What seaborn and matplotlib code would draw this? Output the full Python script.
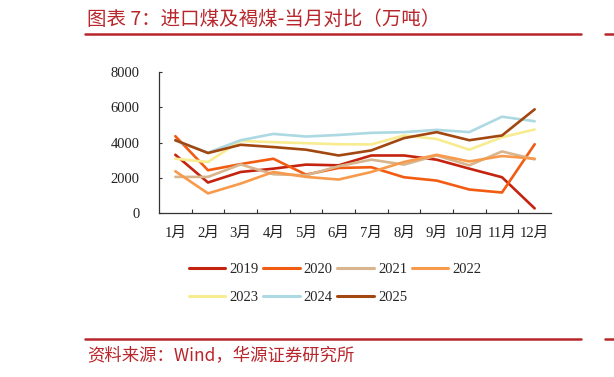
import numpy as np
import pandas as pd
import matplotlib
matplotlib.use("Agg")
import matplotlib.pyplot as plt
import seaborn as sns
from matplotlib.lines import Line2D

months = ['1月', '2月', '3月', '4月', '5月', '6月', '7月', '8月', '9月', '10月', '11月', '12月']
years = ['2019', '2020', '2021', '2022', '2023', '2024', '2025']
y2019 = [3300, 1720, 2320, 2510, 2740, 2700, 3260, 3260, 3020, 2510, 2020, 245]
y2020 = [4360, 2420, 2770, 3075, 2170, 2550, 2590, 2020, 1830, 1320, 1150, 3900]
y2021 = [2040, 2040, 2750, 2190, 2130, 2650, 3020, 2740, 3260, 2700, 3490, 3040]
y2022 = [2360, 1100, 1660, 2320, 2040, 1890, 2320, 2890, 3300, 2920, 3230, 3075]
y2023 = [3075, 2890, 4090, 4020, 3960, 3900, 3890, 4400, 4200, 3590, 4300, 4740]
y2024 = [4110, 3420, 4130, 4490, 4340, 4430, 4550, 4590, 4720, 4590, 5470, 5210]
y2025 = [4130, 3400, 3870, 3740, 3590, 3260, 3550, 4250, 4590, 4130, 4400, 5890]
yticks = [0, 2000, 4000, 6000, 8000]
colors = ['#c4230f', '#f25c12', '#d8b58c', '#f89a4c', '#f8ec90', '#acd9e2', '#a1470f']

series = [y2019, y2020, y2021, y2022, y2023, y2024, y2025]
rows = []
for yr, vals in zip(years, series):
    for i, v in enumerate(vals):
        rows.append({'month': i, 'year': yr, 'value': v})
df = pd.DataFrame(rows)

sns.set_theme(style='white')
plt.rcParams['font.family'] = ['Liberation Serif', 'Noto Sans CJK SC', 'DejaVu Sans']

fig = plt.figure(figsize=(6.14, 3.77), dpi=100)
ax = fig.add_axes([159/614, 1-212.7/377, (551-159)/614, (212.7-72.3)/377])

palette = dict(zip(years, colors))
sns.lineplot(data=df, x='month', y='value', hue='year', palette=palette,
             linewidth=1.9, ax=ax, legend=False, sort=False)

ax.set_xlim(-0.5, 11.5)
ax.set_ylim(0, 8000)
ax.set_yticks(yticks)
ax.set_yticklabels([str(t) for t in yticks])
ax.set_xticks(range(12))
ax.set_xticklabels(months)
ax.set_xticks(np.arange(0.5, 11, 1.0), minor=True)
ax.set_xlabel('')
ax.set_ylabel('')
ax.tick_params(axis='x', which='major', length=0, pad=10, labelsize=10.5, colors='#222222')
ax.tick_params(axis='x', which='minor', direction='in', length=3, width=0.8, color='#333333', bottom=True)
ax.tick_params(axis='y', which='major', direction='in', length=2.5, width=0.8, color='#333333',
               pad=14, labelsize=10.5, labelcolor='#222222', left=True)
for s in ['top', 'right']:
    ax.spines[s].set_visible(False)
for s in ['left', 'bottom']:
    ax.spines[s].set_color('#333333')
    ax.spines[s].set_linewidth(0.9)
ax.grid(False)

# legend filled row by row (matplotlib fills columns first)
order = [0, 4, 1, 5, 2, 6, 3]
handles = [Line2D([], [], color=colors[i], linewidth=2.2) for i in order]
labels = [years[i] for i in order]
fig.legend(handles, labels, loc='center', bbox_to_anchor=(335/614, 1-283.5/377), ncol=4,
           frameon=False, fontsize=10.5, handlelength=2.5, handletextpad=0.3,
           columnspacing=0.3, labelspacing=1.0, borderpad=0)

red = '#b8262c'
title = '图表 7：进口煤及褐煤-当月对比（万吨）'
fig.text(87/614, 1-19/377, title, fontsize=14, color=red, va='center', ha='left',
         family=['Noto Sans CJK SC', 'DejaVu Sans'])
fig.add_artist(Line2D([85/614, 581/614], [1-34/377, 1-34/377], color=red, linewidth=1.8))
fig.add_artist(Line2D([605/614, 1.0], [1-34/377, 1-34/377], color=red, linewidth=1.8))
fig.add_artist(Line2D([85/614, 581/614], [1-339/377, 1-339/377], color=red, linewidth=1.8))
fig.add_artist(Line2D([605/614, 1.0], [1-339/377, 1-339/377], color=red, linewidth=1.8))
fig.text(87/614, 1-356/377, '资料来源：Wind，华源证券研究所', fontsize=12.5, color=red,
         va='center', ha='left', family=['Noto Sans CJK SC', 'DejaVu Sans'])

fig.savefig('out.png', dpi=100)
